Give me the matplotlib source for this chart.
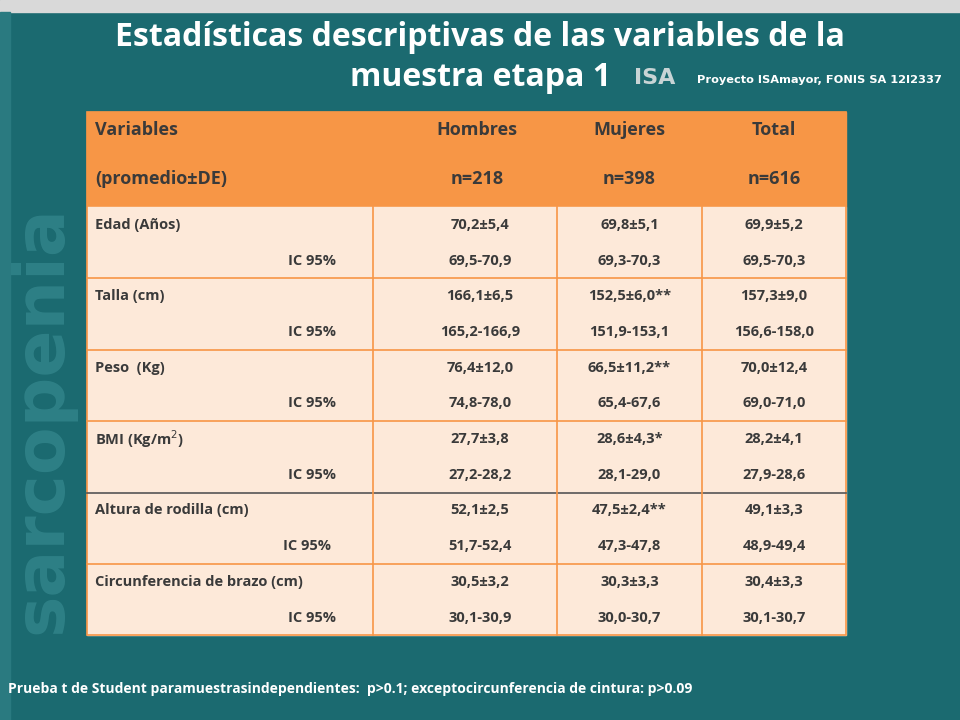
import matplotlib
matplotlib.use("Agg")
import matplotlib.pyplot as plt
from matplotlib.patches import Rectangle

title_lines = ["Estadísticas descriptivas de las variables de la", "muestra etapa 1"]
header1 = ["Variables", "Hombres", "Mujeres", "Total"]
header2 = ["(promedio±DE)", "n=218", "n=398", "n=616"]
variables = ["Edad (Años)", "Talla (cm)", "Peso  (Kg)", "BMI (Kg/m$^2$)",
             "Altura de rodilla (cm)", "Circunferencia de brazo (cm)"]
hombres = ["70,2±5,4", "69,5-70,9", "166,1±6,5", "165,2-166,9", "76,4±12,0", "74,8-78,0",
           "27,7±3,8", "27,2-28,2", "52,1±2,5", "51,7-52,4", "30,5±3,2", "30,1-30,9"]
mujeres = ["69,8±5,1", "69,3-70,3", "152,5±6,0**", "151,9-153,1", "66,5±11,2**", "65,4-67,6",
           "28,6±4,3*", "28,1-29,0", "47,5±2,4**", "47,3-47,8", "30,3±3,3", "30,0-30,7"]
total = ["69,9±5,2", "69,5-70,3", "157,3±9,0", "156,6-158,0", "70,0±12,4", "69,0-71,0",
         "28,2±4,1", "27,9-28,6", "49,1±3,3", "48,9-49,4", "30,4±3,3", "30,1-30,7"]
footer = "Prueba t de Student paramuestrasindependientes:  p>0.1; exceptocircunferencia de cintura: p>0.09"

fig = plt.figure(figsize=(9.6, 7.2), dpi=100)
ax = fig.add_axes([0, 0, 1, 1])
ax.set_xlim(0, 960); ax.set_ylim(720, 0); ax.axis("off")
teal = "#1b6a70"
ax.add_patch(Rectangle((0, 0), 960, 720, color=teal))
ax.add_patch(Rectangle((0, 0), 960, 12, color="#d9d9d9"))
ax.add_patch(Rectangle((0, 12), 10, 708, color="#2a7a80"))
ax.text(42, 420, "sarcopenia", rotation=90, fontsize=50, fontweight="bold",
        color="#2e8086", ha="center", va="center", family="DejaVu Sans")
ax.text(480, 37, title_lines[0], fontsize=23, fontweight="bold", color="white",
        ha="center", va="center", family="Open Sans")
ax.text(480, 78, title_lines[1], fontsize=23, fontweight="bold", color="white",
        ha="center", va="center", family="Open Sans")
ax.text(655, 78, "ISA", fontsize=16, fontweight="bold", color="#e8e8e8", ha="center", va="center",
        alpha=0.85)
ax.text(697, 80, "Proyecto ISAmayor, FONIS SA 12I2337", fontsize=8.2, fontweight="bold",
        color="white", ha="left", va="center")

cols = [87, 373, 557, 702, 846]
orange = "#f79646"; peach = "#fde9d9"; txt = "#3a3a3a"
ax.add_patch(Rectangle((87, 112), 759, 95, color=orange))
for i, (h1, h2) in enumerate(zip(header1, header2)):
    if i == 0:
        x, ha = 95, "left"
    else:
        x, ha = (cols[i] + cols[i + 1]) / 2 + (12 if i == 1 else 0), "center"
    ax.text(x, 130, h1, fontsize=13, fontweight="bold", color=txt, ha=ha, va="center", family="Open Sans")
    ax.text(x, 179, h2, fontsize=13, fontweight="bold", color=txt, ha=ha, va="center", family="Open Sans")

top = 207; rh = 35.7
ax.add_patch(Rectangle((87, top), 759, rh * 12, color=peach))
for r in range(12):
    yc = top + rh * r + rh / 2
    if r % 2 == 0:
        ax.text(95, yc, variables[r // 2], fontsize=10.5, fontweight="bold", color=txt, va="center", family="Open Sans")
    else:
        ax.text(336 if r != 9 else 331, yc, "IC 95%", fontsize=10.5, fontweight="bold", color=txt,
                ha="right", va="center", family="Open Sans")
    for c, vals in enumerate([hombres, mujeres, total]):
        xc = (cols[c + 1] + cols[c + 2]) / 2 + (15 if c == 0 else 0)
        ax.text(xc, yc, vals[r], fontsize=10.5, fontweight="bold", color=txt,
                ha="center", va="center", family="Open Sans")
for g in range(1, 6):
    y = top + rh * 2 * g
    ax.plot([87, 846], [y, y], color="#555555" if g == 4 else orange, lw=1.2)
for x in cols[1:4]:
    ax.plot([x, x], [top, top + rh * 12], color=orange, lw=1.2)
ax.add_patch(Rectangle((87, 112), 759, 95 + rh * 12, fill=False, ec=orange, lw=1.2))
ax.text(8, 689, footer, fontsize=10, fontweight="bold", color="white", va="center", family="Open Sans")
fig.savefig("out.png", dpi=100)
